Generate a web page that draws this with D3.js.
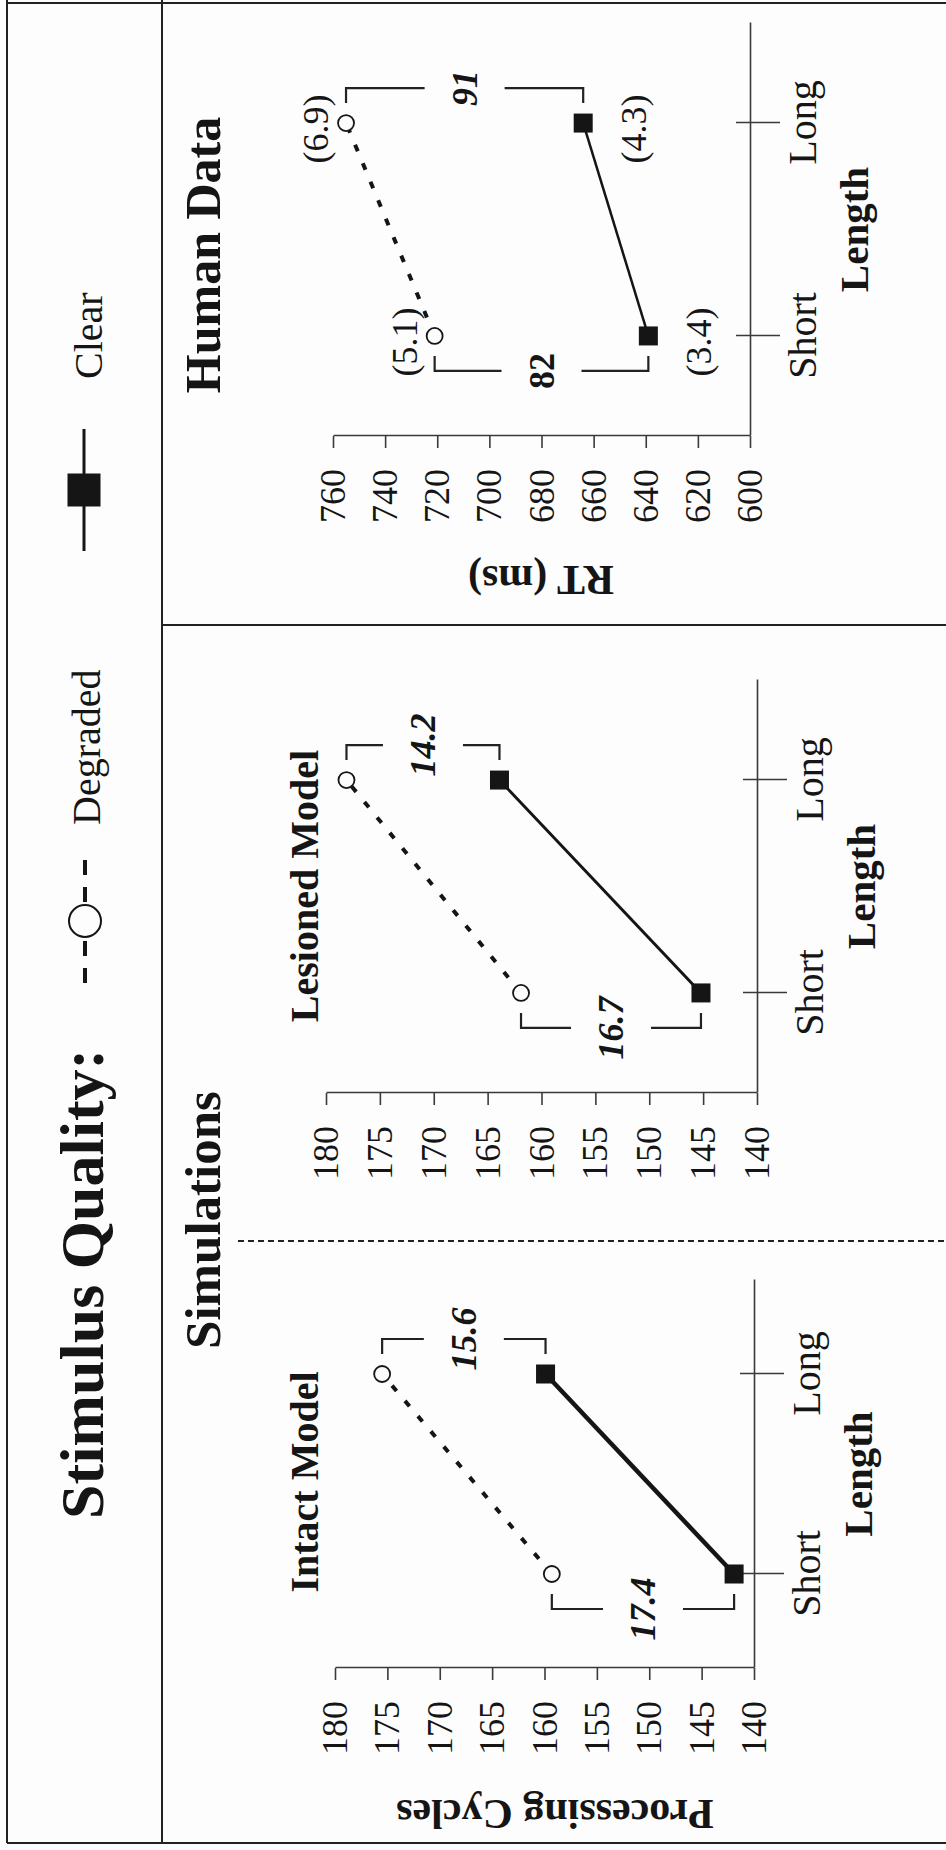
<!DOCTYPE html>
<html lang="en">
<head>
<meta charset="UTF-8">
<script src="https://cdnjs.cloudflare.com/ajax/libs/d3/7.8.5/d3.min.js"></script>
<style>
  body { margin: 0; background: #fff; }
  svg { display: block; font-family: "Liberation Serif", "Times New Roman", serif; }
</style>
</head>
<body>
<svg width="946" height="1850"></svg>
<script>
// values
const lengths = ["Short", "Long"];
const cycleTicks = [140, 145, 150, 155, 160, 165, 170, 175, 180];
const rtTicks = [600, 620, 640, 660, 680, 700, 720, 740, 760];

const intactClear = [141.9, 159.9];
const intactDegraded = [159.3, 175.5];
const intactDiff = ["17.4", "15.6"];

const lesionedClear = [145.2, 163.9];
const lesionedDegraded = [161.9, 178.1];
const lesionedDiff = ["16.7", "14.2"];

const humanClear = [639, 664];
const humanDegraded = [721, 755];
const humanDiff = ["82", "91"];
const humanClearSE = ["(3.4)", "(4.3)"];
const humanDegradedSE = ["(5.1)", "(6.9)"];

const ink = "#151515", axisInk = "#3a3a3a", paper = "#fdfdfd";

// the whole figure sits on its side: draw it upright, then turn it
const svg = d3.select("svg");
svg.append("rect").attr("width", 946).attr("height", 1850).attr("fill", paper);
const g = svg.append("g").attr("transform", "translate(0,1850) rotate(-90)");

// frame
const frame = g.append("g").attr("fill", "none").attr("stroke", "#222").attr("stroke-width", 2);
frame.append("path").attr("d", "M7,7 H1850");
frame.append("path").attr("d", "M7,7 V946");
frame.append("path").attr("d", "M1847,7 V946");
frame.append("path").attr("d", "M7,162 H1850");
frame.append("path").attr("d", "M1225,162 V946");
frame.append("path").attr("d", "M609,238 V946").attr("stroke-dasharray", "6,4").attr("stroke-width", 1.8);

// header strip
g.append("text").attr("x", 331).attr("y", 103)
    .attr("font-size", 62).attr("font-weight", "bold").attr("fill", ink)
    .text("Stimulus Quality:");

g.append("line").attr("x1", 867).attr("x2", 991).attr("y1", 85).attr("y2", 85)
    .attr("stroke", ink).attr("stroke-width", 4).attr("stroke-dasharray", "15,12");
g.append("circle").attr("cx", 929).attr("cy", 85).attr("r", 16)
    .attr("fill", paper).attr("stroke", ink).attr("stroke-width", 2);
g.append("text").attr("x", 1025).attr("y", 100)
    .attr("font-size", 40).attr("fill", ink).text("Degraded");

g.append("line").attr("x1", 1299).attr("x2", 1421).attr("y1", 84).attr("y2", 84)
    .attr("stroke", ink).attr("stroke-width", 3);
g.append("rect").attr("x", 1360 - 16.5).attr("y", 84 - 16.5).attr("width", 33).attr("height", 33)
    .attr("fill", ink);
g.append("text").attr("x", 1471).attr("y", 102)
    .attr("font-size", 40).attr("fill", ink).text("Clear");

g.append("text").attr("x", 630).attr("y", 220).attr("text-anchor", "middle")
    .attr("font-size", 51).attr("font-weight", "bold").attr("fill", ink).text("Simulations");
g.append("text").attr("x", 1595).attr("y", 220).attr("text-anchor", "middle")
    .attr("font-size", 50).attr("font-weight", "bold").attr("fill", ink).text("Human Data");

const panels = [
    { title: "Intact Model", titleX: 368, clear: intactClear, degraded: intactDegraded,
      diff: intactDiff, diffItalic: [true, true], ticks: cycleTicks, domain: [140, 180],
      xr: [182, 570], yr: [754, 335], lineW: 4.5, yLabel: "Processing Cycles", yLabelPos: [50, 555] },
    { title: "Lesioned Model", titleX: 964, clear: lesionedClear, degraded: lesionedDegraded,
      diff: lesionedDiff, diffItalic: [true, true], ticks: cycleTicks, domain: [140, 180],
      xr: [757, 1170], yr: [757, 326], lineW: 3 },
    { title: null, clear: humanClear, degraded: humanDegraded,
      diff: humanDiff, diffItalic: [false, true], ticks: rtTicks, domain: [600, 760],
      xr: [1414, 1827], yr: [750, 333], lineW: 2.5, yLabel: "RT (ms)", yLabelPos: [1284, 541],
      seClear: humanClearSE, seDegraded: humanDegradedSE }
];

panels.forEach(p => {
    const x = d3.scalePoint().domain(lengths).range(p.xr).padding(0.47);
    const y = d3.scaleLinear().domain(p.domain).range(p.yr);
    const pg = g.append("g");

    // value axis
    const ya = pg.append("g")
        .attr("transform", `translate(${p.xr[0]},0)`)
        .call(d3.axisLeft(y).tickValues(p.ticks).tickSize(12).tickSizeOuter(0).tickPadding(21));
    ya.selectAll("text").attr("font-size", 36).attr("fill", ink)
        .attr("font-family", "Liberation Serif");

    // category axis
    const xa = pg.append("g")
        .attr("transform", `translate(0,${p.yr[0]})`)
        .call(d3.axisBottom(x).tickSize(30).tickSizeOuter(0));
    xa.selectAll(".tick line").attr("y1", -14);
    xa.selectAll("text").attr("font-size", 40).attr("fill", ink)
        .attr("font-family", "Liberation Serif").attr("dy", null).attr("y", 66);

    [ya, xa].forEach(a => {
        a.selectAll(".domain, .tick line").attr("stroke", axisInk).attr("stroke-width", 1.6);
    });

    pg.append("text")
        .attr("x", (p.xr[0] + p.xr[1]) / 2).attr("y", p.yr[0] + 118)
        .attr("text-anchor", "middle").attr("font-size", 41).attr("font-weight", "bold")
        .attr("fill", ink).text("Length");

    if (p.yLabel) {
        pg.append("text")
            .attr("transform", `translate(${p.yLabelPos[0]},${p.yLabelPos[1]}) rotate(-90)`)
            .attr("text-anchor", "middle").attr("font-size", 42).attr("font-weight", "bold")
            .attr("fill", ink).text(p.yLabel);
    }
    if (p.title) {
        pg.append("text").attr("x", p.titleX).attr("y", 318).attr("text-anchor", "middle")
            .attr("font-size", 40).attr("font-weight", "bold").attr("fill", ink).text(p.title);
    }

    // series lines
    const line = d3.line().x((d, i) => x(lengths[i])).y(d => y(d));
    pg.append("path").attr("d", line(p.degraded)).attr("fill", "none")
        .attr("stroke", ink).attr("stroke-width", 4).attr("stroke-dasharray", "7,13");
    pg.append("path").attr("d", line(p.clear)).attr("fill", "none")
        .attr("stroke", ink).attr("stroke-width", p.lineW);

    pg.selectAll("circle.deg").data(p.degraded).enter().append("circle")
        .attr("cx", (d, i) => x(lengths[i])).attr("cy", d => y(d)).attr("r", 8)
        .attr("fill", paper).attr("stroke", ink).attr("stroke-width", 1.8);
    pg.selectAll("rect.clr").data(p.clear).enter().append("rect")
        .attr("x", (d, i) => x(lengths[i]) - 9.5).attr("y", d => y(d) - 9.5)
        .attr("width", 19).attr("height", 19).attr("fill", ink);

    // difference brackets: Short one sits before the points, Long one after
    lengths.forEach((c, i) => {
        const dir = i === 0 ? 1 : -1;
        const bx = x(c) - dir * 35;
        const yd = y(p.degraded[i]), yc = y(p.clear[i]);
        const mid = (yd + yc) / 2;
        const h = bx + dir * 15;
        pg.append("path")
            .attr("d", `M${h},${yd} H${bx} V${mid - 40} M${bx},${mid + 40} V${yc} H${h}`)
            .attr("fill", "none").attr("stroke", "#222").attr("stroke-width", 2.2);
        pg.append("text").attr("x", bx).attr("y", mid)
            .attr("text-anchor", "middle").attr("dominant-baseline", "central")
            .attr("font-size", 36).attr("font-weight", "bold")
            .attr("font-style", p.diffItalic[i] ? "italic" : "normal")
            .attr("fill", ink).text(p.diff[i]);
    });

    // standard errors
    if (p.seClear) {
        lengths.forEach((c, i) => {
            pg.append("text").attr("x", x(c) - 6).attr("y", y(p.degraded[i]) - 18)
                .attr("text-anchor", "middle").attr("font-size", 36).attr("fill", ink)
                .text(p.seDegraded[i]);
            pg.append("text").attr("x", x(c) - 6).attr("y", y(p.clear[i]) + 63)
                .attr("text-anchor", "middle").attr("font-size", 36).attr("fill", ink)
                .text(p.seClear[i]);
        });
    }
});
</script>
</body>
</html>
